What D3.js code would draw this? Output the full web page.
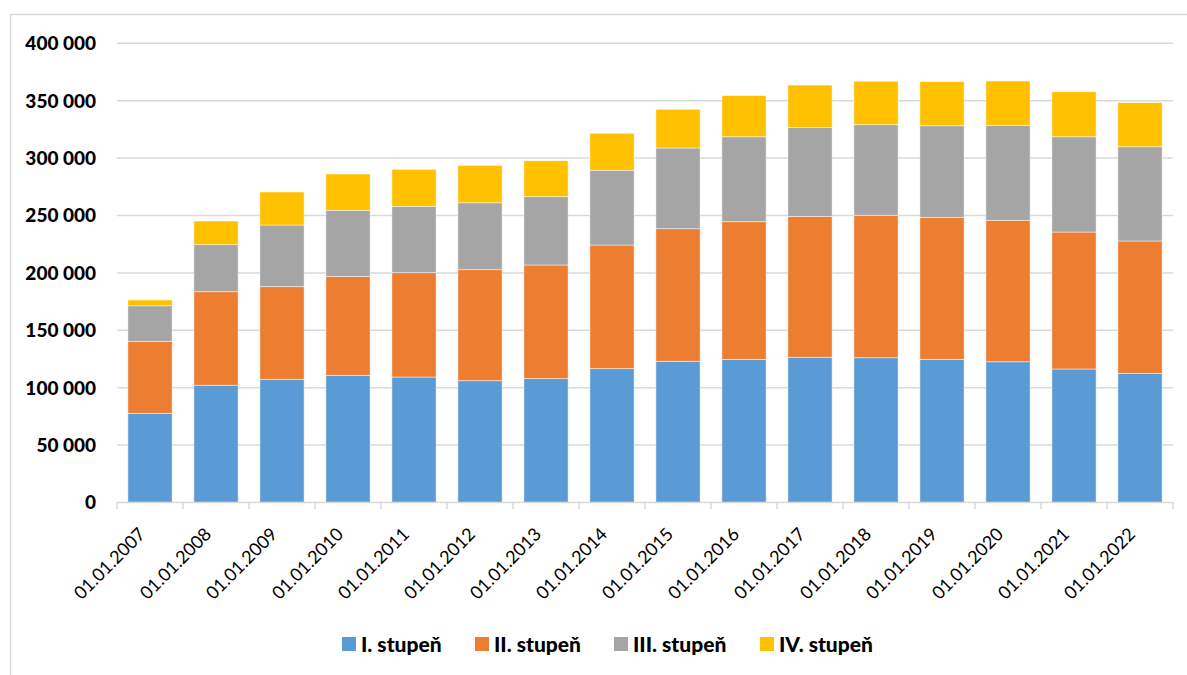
<!DOCTYPE html>
<html>
<head>
<meta charset="utf-8">
<script src="https://cdn.jsdelivr.net/npm/d3@7"></script>
<style>
  html, body { margin: 0; padding: 0; background: #fff; }
  svg { display: block; }
</style>
</head>
<body>
<svg id="chart" width="1187" height="675"></svg>
<script>
const categories = ["01.01.2007","01.01.2008","01.01.2009","01.01.2010","01.01.2011","01.01.2012","01.01.2013","01.01.2014","01.01.2015","01.01.2016","01.01.2017","01.01.2018","01.01.2019","01.01.2020","01.01.2021","01.01.2022"];
const seriesNames = ["I. stupeň","II. stupeň","III. stupeň","IV. stupeň"];
const stupen1 = [77700,102100,107300,110800,109300,106100,107900,116600,123000,124700,126500,126100,124700,122600,116300,112500];
const stupen2 = [62700,81500,80700,86200,90900,96700,99000,107700,115500,119900,122700,124100,123700,123200,119300,115300];
const stupen3 = [31000,41000,53700,57500,57800,58300,59500,65100,70300,74000,77600,78900,79800,82800,83000,82100];
const stupen4 = [5000,20600,28800,31600,32200,32600,31300,32200,33700,35800,36800,37800,38400,38600,39200,38400];
const colors = ["#5B9BD5","#ED7D31","#A5A5A5","#FFC000"];
const yTicks = [0,50000,100000,150000,200000,250000,300000,350000,400000];

const svg = d3.select("#chart");
const W = 1187, H = 675;
const FONT = "Lato, 'Open Sans', sans-serif";

// outer frame
svg.append("rect").attr("x",10.5).attr("y",14.5).attr("width",W+10).attr("height",H+10)
  .attr("fill","none").attr("stroke","#d9d9d9").attr("stroke-width",1.5);

const x = d3.scaleBand().domain(categories).range([117,1173]).paddingInner(0.33).paddingOuter(0.165);
const y = d3.scaleLinear().domain([0,400000]).range([502.5,43.3]);

const fmt = v => v === 0 ? "0" : d3.format(",")(v).replace(/,/g," ");

// gridlines
svg.append("g").selectAll("line").data(yTicks.filter(d=>d>0)).join("line")
  .attr("x1",117).attr("x2",1173).attr("y1",d=>y(d)).attr("y2",d=>y(d))
  .attr("stroke","#d9d9d9").attr("stroke-width",1.5);

// y labels
svg.append("g").selectAll("text").data(yTicks).join("text")
  .attr("x",96).attr("y",d=>y(d)).attr("dy","0.36em").attr("text-anchor","end")
  .attr("font-family",FONT).attr("font-weight","900")
  .attr("font-size",19).attr("fill","#000").text(fmt);

// stacked bars
const rows = categories.map((c,i)=>({cat:c, s0:stupen1[i], s1:stupen2[i], s2:stupen3[i], s3:stupen4[i]}));
const stack = d3.stack().keys(["s0","s1","s2","s3"])(rows);
svg.append("g").selectAll("g").data(stack).join("g")
  .attr("fill",(d,i)=>colors[i])
  .selectAll("rect").data(d=>d).join("rect")
  .attr("x",d=>x(d.data.cat)).attr("width",x.bandwidth())
  .attr("y",d=>y(d[1])).attr("height",d=>y(d[0])-y(d[1]))
  .attr("stroke","#fff").attr("stroke-opacity",0.6).attr("stroke-width",0.8);

// x axis line and ticks
const axisG = svg.append("g");
axisG.append("line").attr("x1",117).attr("x2",1173).attr("y1",502.5).attr("y2",502.5)
  .attr("stroke","#d9d9d9").attr("stroke-width",1.5);
const bounds = categories.map(c=>x(c) - x.step()*x.paddingInner()/2).concat([1173]);
axisG.selectAll("line.tick").data(bounds).join("line").attr("class","tick")
  .attr("x1",d=>d).attr("x2",d=>d).attr("y1",502.5).attr("y2",509)
  .attr("stroke","#d9d9d9").attr("stroke-width",1.5);

// x labels
svg.append("g").selectAll("text").data(categories).join("text")
  .attr("transform",d=>`translate(${x(d)+x.bandwidth()/2-8},${531}) rotate(-45)`)
  .attr("text-anchor","end").attr("dy","0.35em")
  .attr("font-family",FONT).attr("font-size",18)
  .attr("fill","#000").text(d=>d);

// legend
const legendX = [342,475,614,760];
const lg = svg.append("g");
seriesNames.forEach((n,i)=>{
  lg.append("rect").attr("x",legendX[i]).attr("y",637).attr("width",14).attr("height",14).attr("fill",colors[i]);
  lg.append("text").attr("x",legendX[i]+19).attr("y",652)
    .attr("font-family",FONT).attr("font-weight","900")
    .attr("font-size",21).attr("fill","#000").text(n);
});
</script>
</body>
</html>
